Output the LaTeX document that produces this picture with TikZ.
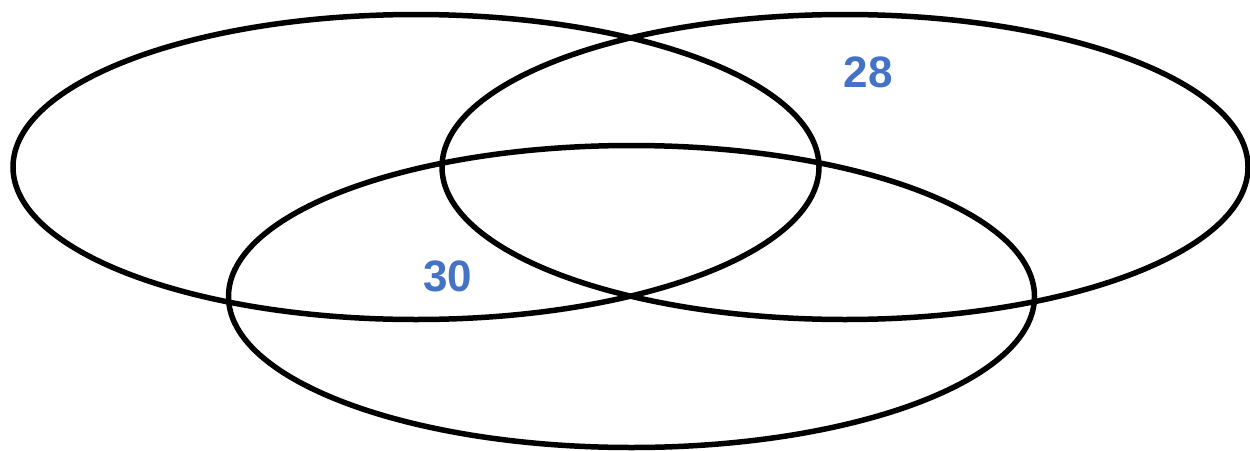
\documentclass[tikz,border=0pt]{standalone}
\usepackage{fontspec}
\setmainfont{Liberation Sans}
\usetikzlibrary{shapes.geometric}
\definecolor{lblblue}{HTML}{4472C4}
\tikzset{
  setshape/.style={draw=black, line width=5.5pt, ellipse, inner sep=0pt, minimum width=806pt, minimum height=305pt},
  lbl/.style={text=lblblue, font=\bfseries\fontsize{44}{44}\selectfont, inner sep=0pt}
}
\begin{document}
\begin{tikzpicture}[x=1pt,y=-1pt]
\useasboundingbox (0,0) rectangle (1250,450);
\node[setshape] (A) at (416,167) {};
\node[setshape] (B) at (845,167) {};
\node[setshape, minimum height=302pt] (C) at (631.5,296.5) {};
\node[lbl] (n28) at (868,72) {28};
\node[lbl] (n30) at (448,276) {30};
\end{tikzpicture}
\end{document}
